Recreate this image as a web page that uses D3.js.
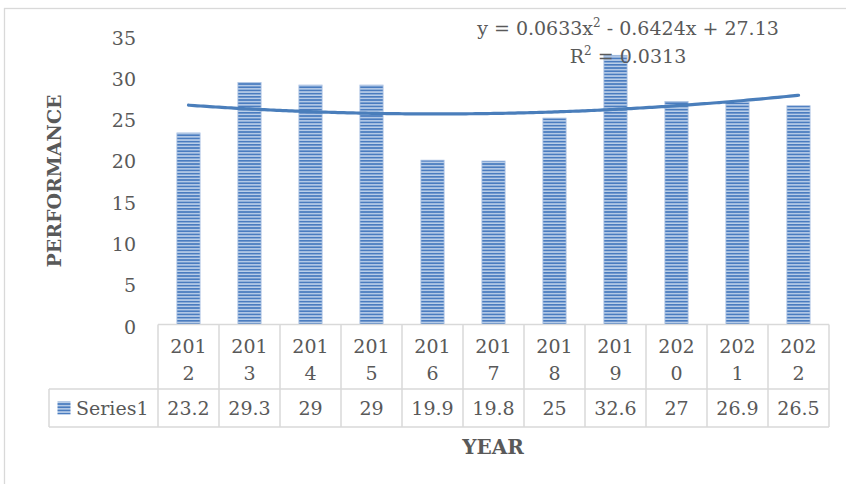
<!DOCTYPE html>
<html><head><meta charset="utf-8">
<script src="https://cdn.jsdelivr.net/npm/d3@7"></script>
<style>
html,body{margin:0;padding:0;background:#fff;}
svg{display:block;}
text{font-family:"DejaVu Serif",serif;fill:#595959;}
</style></head>
<body>
<svg id="chart" width="846" height="484"></svg>
<script>
const years = ["2012","2013","2014","2015","2016","2017","2018","2019","2020","2021","2022"];
const values = [23.2,29.3,29,29,19.9,19.8,25,32.6,27,26.9,26.5];
const valueLabels = ["23.2","29.3","29","29","19.9","19.8","25","32.6","27","26.9","26.5"];
const yTicks = [0,5,10,15,20,25,30,35];
const seriesName = "Series1";
const xTitle = "YEAR";
const yTitle = "PERFORMANCE";
const eqParts = [["y = 0.0633x","2"," - 0.6424x + 27.13"], ["R","2"," = 0.0313"]];

const svg = d3.select("#chart");
const W = 846, H = 484;
const plot = {left:158, right:829, top:35.5, bottom:324.5};
const tableLeft = 49, row1Bottom = 389, row2Bottom = 427;
const gridColor = "#d9d9d9", textColor = "#595959", barColor = "#4a7ebb";

// chart frame
svg.append("rect").attr("x",4.5).attr("y",8.5).attr("width",W+20).attr("height",H+20)
  .attr("fill","none").attr("stroke",gridColor).attr("stroke-width",1.3);

// pattern
const defs = svg.append("defs");
const pat = defs.append("pattern").attr("id","stripes").attr("patternUnits","userSpaceOnUse")
  .attr("width",8).attr("height",3.2);
pat.append("rect").attr("width",8).attr("height",3.2).attr("fill","#bcd0ea");
pat.append("rect").attr("y",0).attr("width",8).attr("height",1.7).attr("fill","#4a7cbf");

const x = d3.scaleBand().domain(years).range([plot.left, plot.right]).paddingInner(0).paddingOuter(0);
const y = d3.scaleLinear().domain([0,35]).range([plot.bottom, plot.top]);
const barW = x.bandwidth()*0.38;

// y tick labels
const yAxis = d3.axisLeft(y).tickValues(yTicks).tickSize(0).tickPadding(0);
const ga = svg.append("g").attr("transform",`translate(136,0)`).call(yAxis);
ga.select(".domain").remove();
ga.selectAll("text").attr("font-size",19).attr("fill",textColor).attr("font-family","DejaVu Serif").attr("dy","0.45em");

// bars
svg.append("g").selectAll("rect").data(years).join("rect")
  .attr("x",(d)=>x(d)+x.bandwidth()/2-barW/2)
  .attr("y",(d,i)=>y(values[i]))
  .attr("width",barW)
  .attr("height",(d,i)=>y(0)-y(values[i]))
  .attr("fill","url(#stripes)")
  .attr("stroke","#a9c0e2").attr("stroke-width",0.8);

// polynomial (order 2) least-squares trendline, as the chart computes it
const xs = values.map((v,i)=>i+1);
function polyfit2(xs, ys){
  let S=[0,0,0,0,0], T=[0,0,0];
  xs.forEach((xv,i)=>{for(let k=0;k<5;k++)S[k]+=Math.pow(xv,k);for(let k=0;k<3;k++)T[k]+=ys[i]*Math.pow(xv,k);});
  const A=[[S[0],S[1],S[2],T[0]],[S[1],S[2],S[3],T[1]],[S[2],S[3],S[4],T[2]]];
  for(let c=0;c<3;c++){for(let r=c+1;r<3;r++){const f=A[r][c]/A[c][c];for(let k=c;k<4;k++)A[r][k]-=f*A[c][k];}}
  const sol=[0,0,0];
  for(let r=2;r>=0;r--){let s=A[r][3];for(let k=r+1;k<3;k++)s-=A[r][k]*sol[k];sol[r]=s/A[r][r];}
  return sol; // c0,c1,c2
}
const coef = polyfit2(xs, values);
const xi = d3.scaleLinear().domain([1,years.length])
  .range([x(years[0])+x.bandwidth()/2, x(years[years.length-1])+x.bandwidth()/2]);
const trendPts = d3.range(1, years.length+0.001, 0.1).map(t=>[t, coef[0]+coef[1]*t+coef[2]*t*t]);
svg.append("path").datum(trendPts)
  .attr("d", d3.line().x(d=>xi(d[0])).y(d=>y(d[1])).curve(d3.curveBasis))
  .attr("fill","none").attr("stroke",barColor).attr("stroke-width",3.2).attr("stroke-linecap","round");

// equation
[35,63].forEach((by,li)=>{
  const t = svg.append("text").attr("x",628).attr("y",by).attr("text-anchor","middle").attr("font-size",19);
  t.append("tspan").text(eqParts[li][0]);
  t.append("tspan").attr("font-size",12).attr("dy",-8).text(eqParts[li][1]);
  t.append("tspan").attr("dy",8).text(eqParts[li][2]);
});

// data table
const tg = svg.append("g").attr("stroke",gridColor).attr("stroke-width",1.5).attr("fill","none");
tg.append("line").attr("x1",plot.left).attr("x2",plot.right).attr("y1",plot.bottom).attr("y2",plot.bottom);
tg.append("line").attr("x1",tableLeft).attr("x2",plot.right).attr("y1",row1Bottom).attr("y2",row1Bottom);
tg.append("line").attr("x1",tableLeft).attr("x2",plot.right).attr("y1",row2Bottom).attr("y2",row2Bottom);
tg.append("line").attr("x1",tableLeft).attr("x2",tableLeft).attr("y1",row1Bottom).attr("y2",row2Bottom);
const bounds = years.map(d=>x(d)).concat([plot.right]);
tg.selectAll("line.v").data(bounds).join("line").attr("class","v")
  .attr("x1",d=>d).attr("x2",d=>d).attr("y1",plot.bottom).attr("y2",row2Bottom);

// year labels (wrapped)
const yl = svg.append("g").selectAll("text").data(years).join("text")
  .attr("x",d=>x(d)+x.bandwidth()/2).attr("text-anchor","middle").attr("font-size",19);
yl.append("tspan").attr("x",d=>x(d)+x.bandwidth()/2).attr("y",353).text(d=>d.slice(0,3));
yl.append("tspan").attr("x",d=>x(d)+x.bandwidth()/2).attr("y",380).text(d=>d.slice(3));

// value labels
svg.append("g").selectAll("text").data(years).join("text")
  .attr("x",d=>x(d)+x.bandwidth()/2).attr("y",415).attr("text-anchor","middle").attr("font-size",19)
  .text((d,i)=>valueLabels[i]);

// legend key
svg.append("rect").attr("x",57.5).attr("y",401.5).attr("width",13).attr("height",13).attr("fill","url(#stripes)");
svg.append("text").attr("x",76).attr("y",415).attr("font-size",19).text(seriesName);

// axis titles
svg.append("text").attr("x",493).attr("y",454).attr("text-anchor","middle").attr("font-size",20).attr("font-weight","bold").text(xTitle);
svg.append("text").attr("transform","translate(61,181) rotate(-90)").attr("text-anchor","middle").attr("font-size",19).attr("font-weight","bold").text(yTitle);
</script>
</body></html>
